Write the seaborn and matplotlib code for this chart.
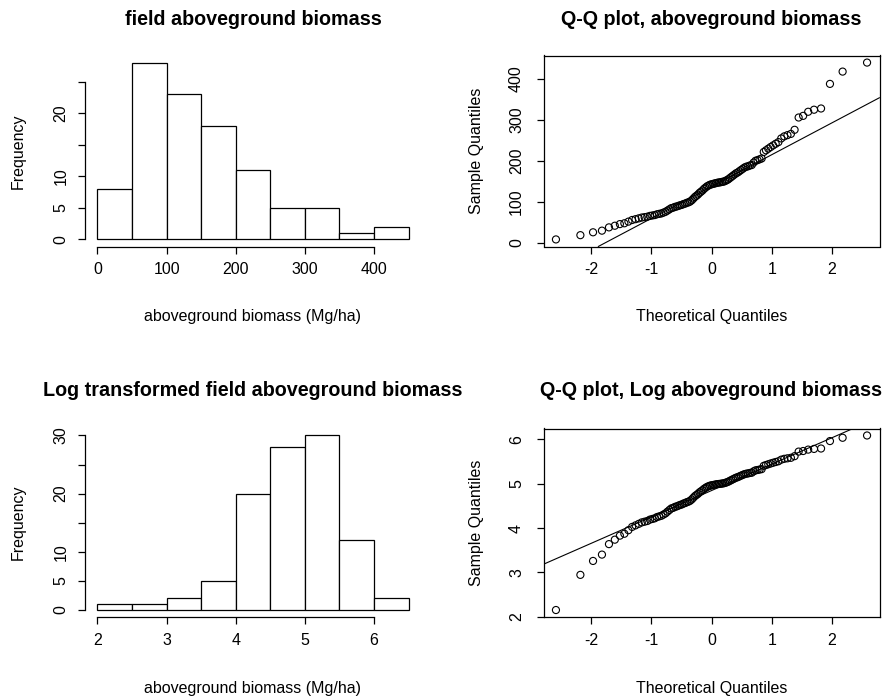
import numpy as np
import pandas as pd
import matplotlib
matplotlib.use("Agg")
import matplotlib.pyplot as plt
import seaborn as sns
from statistics import NormalDist

# ---------------- data ----------------
biomass = [8.6, 19, 26, 30, 38, 42, 46, 48, 52, 56,
           58, 60, 62, 63, 64, 66, 67, 68, 70, 71,
           72, 74, 76, 79, 82, 85, 86, 88, 89, 90.5,
           92, 93, 95, 96, 98, 99, 101, 104, 108, 112,
           115, 118, 122, 125, 128, 132, 135, 138, 140, 142,
           143, 144, 145, 146, 147, 147.5, 148, 149, 149.5, 151,
           153, 155, 158, 161, 164, 167, 170, 172, 175, 178,
           181, 184, 186, 187, 189, 190, 196, 200.5, 202, 204,
           206, 222, 226, 230, 234, 238, 242, 246, 255, 260,
           263, 266, 276, 306, 310, 320, 325, 328, 388, 418, 440]

hist_breaks = [0, 50, 100, 150, 200, 250, 300, 350, 400, 450]
log_breaks = [2.0, 2.5, 3.0, 3.5, 4.0, 4.5, 5.0, 5.5, 6.0, 6.5]
hist_xticks = [0, 100, 200, 300, 400]
hist_yticks = [0, 5, 10, 15, 20, 25]
hist_ylabels = ["0", "5", "10", "", "20", ""]
log_xticks = [2, 3, 4, 5, 6]
log_yticks = [0, 5, 10, 15, 20, 25, 30]
log_ylabels = ["0", "5", "10", "", "20", "", "30"]
qq_xticks = [-2, -1, 0, 1, 2]
qq_yticks = [0, 100, 200, 300, 400]
logqq_yticks = [2, 3, 4, 5, 6]

titles = ["field aboveground biomass", "Q-Q plot, aboveground biomass",
          "Log transformed field aboveground biomass", "Q-Q plot, Log aboveground biomass"]
hist_xlabel = "aboveground biomass (Mg/ha)"
hist_ylabel = "Frequency"
qq_xlabel = "Theoretical Quantiles"
qq_ylabel = "Sample Quantiles"

# ---------------- derived ----------------
df = pd.DataFrame({"agb": biomass})
df["log_agb"] = np.log(df["agb"])
n = len(df)
nd = NormalDist()
theo = [nd.inv_cdf((i + 0.5) / n) for i in range(n)]

sns.set_theme(style="white")
plt.rcParams["font.family"] = ["Liberation Sans", "DejaVu Sans"]
plt.rcParams["text.color"] = "black"
plt.rcParams["axes.labelcolor"] = "black"
plt.rcParams["xtick.color"] = "black"
plt.rcParams["ytick.color"] = "black"

W, H = 884, 698
fig = plt.figure(figsize=(W / 100, H / 100), dpi=100)
fig.patch.set_facecolor("white")

TICK_FS = 11.5
LAB_FS = 11.5
TITLE_FS = 14.2
LW = 0.9


def add_ax(l, t, r, b):
    return fig.add_axes([l / W, 1 - b / H, (r - l) / W, (b - t) / H])


def ext(lo, hi):
    d = (hi - lo) * 0.04
    return lo - d, hi + d


def style_common(ax, box, t, b, l, r, title, xlabel, ylabel, title_y, xlab_y, ylab_x, ypad):
    h = b - t
    w = r - l
    ax.set_facecolor("white")
    ax.grid(False)
    ax.tick_params(axis="both", which="both", bottom=True, left=True, top=False, right=False,
                   direction="out", length=5, width=LW, labelsize=TICK_FS, pad=6.5, colors="black")
    ax.tick_params(axis="y", labelrotation=90, pad=ypad)
    for lab in ax.get_yticklabels():
        lab.set_va("center")
    for s in ax.spines.values():
        s.set_linewidth(LW)
        s.set_color("black")
    if not box:
        ax.spines["top"].set_visible(False)
        ax.spines["right"].set_visible(False)
    ax.set_title(title, fontsize=TITLE_FS, fontweight="bold", y=1 + (t - title_y) / h,
                 va="center", pad=0)
    ax.set_xlabel(xlabel, fontsize=LAB_FS)
    ax.xaxis.label.set_va("center")
    ax.xaxis.set_label_coords(0.5, -(xlab_y - b) / h)
    ax.set_ylabel(ylabel, fontsize=LAB_FS)
    ax.yaxis.label.set_va("center")
    ax.yaxis.set_label_coords((ylab_x - l) / w, 0.5)


def draw_hist(ax, col, breaks, xticks, yticks, ylabels, pos, title, title_y, xlab_y):
    l, t, r, b = pos
    sns.histplot(data=df, x=col, bins=breaks, stat="count", ax=ax,
                 color="white", edgecolor="black", linewidth=LW, alpha=1)
    counts, _ = np.histogram(df[col], bins=breaks)
    ax.set_xlim(*ext(breaks[0], breaks[-1]))
    ax.set_ylim(*ext(0, counts.max()))
    ax.set_xticks(xticks)
    ax.set_xticklabels([str(v) for v in xticks])
    ax.set_yticks(yticks)
    ax.set_yticklabels(ylabels)
    ax.spines["bottom"].set_bounds(xticks[0], xticks[-1])
    ax.spines["left"].set_bounds(yticks[0], yticks[-1])
    style_common(ax, False, t, b, l, r, title, hist_xlabel, hist_ylabel, title_y, xlab_y, 18, 7)


def draw_qq(ax, col, yticks, pos, title, title_y, xlab_y):
    l, t, r, b = pos
    sample = np.sort(df[col].to_numpy())
    qdf = pd.DataFrame({"theo": theo, "sample": sample})
    sns.scatterplot(data=qdf, x="theo", y="sample", ax=ax, marker="o", s=26,
                    facecolors="none", edgecolor="black", linewidth=0.8)
    q1, q3 = np.quantile(sample, [0.25, 0.75])
    z1, z3 = nd.inv_cdf(0.25), nd.inv_cdf(0.75)
    slope = (q3 - q1) / (z3 - z1)
    inter = q1 - slope * z1
    ax.axline((0, inter), slope=slope, color="black", linewidth=0.8)
    ax.set_xlim(*ext(min(theo), max(theo)))
    ax.set_ylim(*ext(sample.min(), sample.max()))
    ax.set_xticks(qq_xticks)
    ax.set_xticklabels([str(v) for v in qq_xticks])
    ax.set_yticks(yticks)
    ax.set_yticklabels([str(v) for v in yticks])
    style_common(ax, True, t, b, l, r, title, qq_xlabel, qq_ylabel, title_y, xlab_y, 476, 9)


pos_tl = (85, 55.5, 421, 246.5)
pos_tr = (543.5, 55.5, 879.5, 246.5)
pos_bl = (85, 428.5, 421, 617)
pos_br = (543.5, 428.5, 879.5, 617)

ax1 = add_ax(*pos_tl)
draw_hist(ax1, "agb", hist_breaks, hist_xticks, hist_yticks, hist_ylabels, pos_tl, titles[0], 19.5, 317)
ax2 = add_ax(*pos_tr)
draw_qq(ax2, "agb", qq_yticks, pos_tr, titles[1], 19.5, 316.5)
ax3 = add_ax(*pos_bl)
draw_hist(ax3, "log_agb", log_breaks, log_xticks, log_yticks, log_ylabels, pos_bl, titles[2], 390, 688)
ax4 = add_ax(*pos_br)
draw_qq(ax4, "log_agb", logqq_yticks, pos_br, titles[3], 390, 688)

fig.savefig("out.png", dpi=100, facecolor="white")
